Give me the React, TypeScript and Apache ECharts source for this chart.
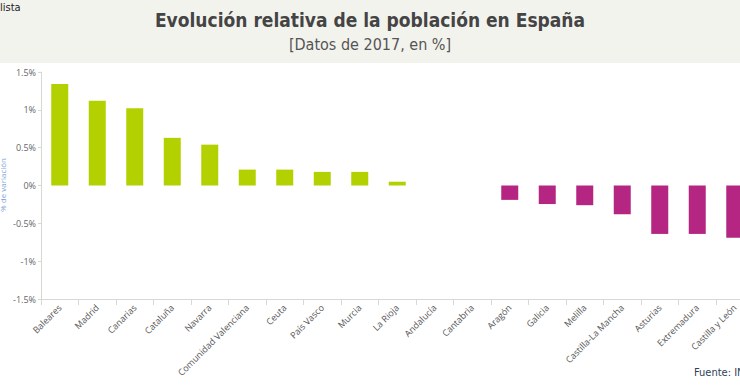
import React, { useEffect, useRef } from "react";
import * as echarts from "echarts";

const categories = [
  "Baleares", "Madrid", "Canarias", "Cataluña", "Navarra", "Comunidad Valenciana",
  "Ceuta", "País Vasco", "Murcia", "La Rioja", "Andalucía", "Cantabria", "Aragón",
  "Galicia", "Melilla", "Castilla-La Mancha", "Asturias", "Extremadura", "Castilla y León",
];
const values = [
  1.34, 1.12, 1.02, 0.63, 0.54, 0.21, 0.21, 0.18, 0.18, 0.05, 0.0, 0.0, -0.19,
  -0.245, -0.26, -0.38, -0.64, -0.64, -0.69,
];
const yMin = -1.5;
const yMax = 1.5;
const yStep = 0.5;

const GREEN = "#b3d100";
const MAGENTA = "#b52683";

export default function App() {
  const ref = useRef<HTMLDivElement>(null);
  useEffect(() => {
    if (!ref.current) return;
    const chart = echarts.init(ref.current, undefined, { renderer: "svg" });
    chart.setOption({
      animation: false,
      backgroundColor: "#ffffff",
      graphic: [
        { type: "rect", left: 0, top: 0, shape: { width: 760, height: 63 }, style: { fill: "#f3f3ee" }, z: -10 },
        {
          type: "text", left: 0, top: 2,
          style: { text: "lista", fontSize: 11, fill: "#222", fontFamily: "DejaVu Sans Condensed" },
        },
        {
          type: "text", x: 370, y: 10,
          style: {
            text: "Evolución relativa de la población en España", fontSize: 19, fontWeight: "bold",
            fill: "#444", fontFamily: "DejaVu Sans Condensed", align: "center",
          },
        },
        {
          type: "text", x: 370, y: 36,
          style: {
            text: "[Datos de 2017, en %]", fontSize: 16,
            fill: "#555", fontFamily: "DejaVu Sans Condensed", align: "center",
          },
        },
        {
          type: "text", x: 694, y: 367,
          style: { text: "Fuente: INE", fontSize: 11, fill: "#2e4256", fontFamily: "DejaVu Sans Condensed" },
        },
        {
          type: "text", x: 2, y: 185, rotation: Math.PI / 2,
          style: { text: "% de variación", fontSize: 8, fill: "#7aa6d6", fontFamily: "Open Sans", align: "center", verticalAlign: "middle" },
        },
      ],
      grid: { left: 41, right: 6.5, top: 72, bottom: 90, containLabel: false },
      xAxis: {
        type: "category",
        data: categories,
        position: "bottom",
        axisLine: { onZero: false, lineStyle: { color: "#d8d8d3", width: 1 } },
        axisTick: { show: true, alignWithLabel: false, length: 6, lineStyle: { color: "#d8d8d3" } },
        axisLabel: {
          interval: 0, rotate: 45, fontSize: 9, color: "#555", fontFamily: "Open Sans", margin: 7,
        },
      },
      yAxis: {
        type: "value",
        min: yMin,
        max: yMax,
        interval: yStep,
        axisLine: { show: true, lineStyle: { color: "#d8d8d3" } },
        axisTick: { show: true, length: 3, lineStyle: { color: "#d8d8d3" } },
        splitLine: { show: false },
        axisLabel: {
          formatter: (v: number) => `${v}%`, fontSize: 9, color: "#666", fontFamily: "Open Sans", margin: 5,
        },
      },
      series: [
        {
          type: "bar",
          data: values.map((v) => ({ value: v, itemStyle: { color: v >= 0 ? GREEN : MAGENTA } })),
          barWidth: 17,
        },
      ],
    });
    return () => chart.dispose();
  }, []);
  return (
    <div style={{ position: "fixed", left: 0, top: 0, width: 740, height: 389, overflow: "hidden", background: "#fff" }}>
      <div ref={ref} style={{ width: 760, height: 389 }} />
    </div>
  );
}
